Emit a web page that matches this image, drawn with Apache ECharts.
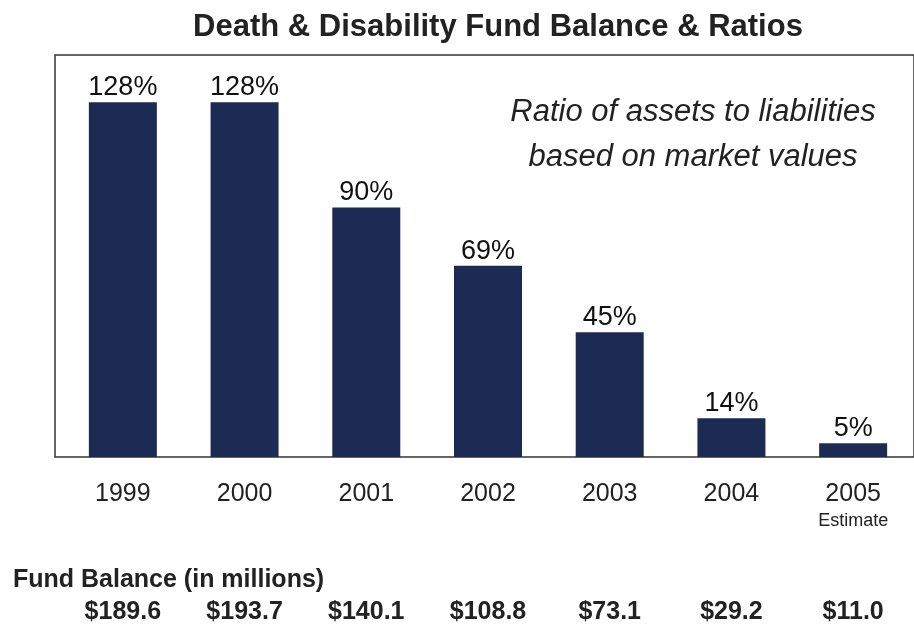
<!DOCTYPE html>
<html><head><meta charset="utf-8">
<script src="https://cdn.jsdelivr.net/npm/echarts@6/dist/echarts.min.js"></script>
<style>html,body{margin:0;padding:0;background:#fff}#c{width:914px;height:637px}</style>
</head><body><div id="c"></div>
<script>
var years = ['1999','2000','2001','2002','2003','2004','2005'];
var ratios = [128, 128, 90, 69, 45, 14, 5];
var fundBalance = ['$189.6','$193.7','$140.1','$108.8','$73.1','$29.2','$11.0'];
var estimateNote = 'Estimate';

var FONT = 'Liberation Sans';
var chart = echarts.init(document.getElementById('c'));
chart.setOption({
  backgroundColor: '#ffffff',
  animation: false,
  title: [{
    text: 'Death & Disability Fund Balance & Ratios',
    left: 493, top: 7, textAlign: 'center',
    textStyle: {fontFamily: FONT, fontWeight: 'bold', fontSize: 31, color: '#222'}
  }, {
    text: 'Ratio of assets to liabilities\nbased on market values',
    left: 688, top: 85, textAlign: 'center',
    textStyle: {fontFamily: FONT, fontStyle: 'italic', fontWeight: 'normal', fontSize: 31, color: '#222', lineHeight: 45}
  }, {
    text: 'Fund Balance (in millions)',
    left: 8, top: 563,
    textStyle: {fontFamily: FONT, fontWeight: 'bold', fontSize: 25, color: '#222'}
  }],
  grid: [
    {left: 62, right: -6, top: 55, bottom: 180},
    {left: 55, right: -6, top: 55, bottom: 180, show: true, borderColor: '#333', borderWidth: 1.5, backgroundColor: 'transparent'}
  ],
  xAxis: [{
    type: 'category', data: years, position: 'bottom', gridIndex: 0,
    axisLine: {show: false}, axisTick: {show: false},
    axisLabel: {
      interval: 0, margin: 25, fontFamily: FONT, fontSize: 25, color: '#222', lineHeight: 25,
      formatter: function (v) { return v === '2005' ? v + '\n{e|' + estimateNote + '}' : v; },
      rich: {e: {fontSize: 18, fontFamily: FONT, color: '#222', lineHeight: 28}}
    }
  }, {
    type: 'category', data: fundBalance, position: 'bottom', offset: 135, gridIndex: 0,
    axisLine: {show: false}, axisTick: {show: false},
    axisLabel: {interval: 0, fontFamily: FONT, fontWeight: 'bold', fontSize: 25, color: '#222'}
  }, {
    type: 'category', data: [], gridIndex: 1, show: false
  }],
  yAxis: [
    {type: 'value', min: 0, max: 145, show: false, splitLine: {show: false}, gridIndex: 0},
    {type: 'value', min: 0, max: 145, show: false, splitLine: {show: false}, gridIndex: 1}
  ],
  series: [{
    type: 'bar', data: ratios, barWidth: 68, xAxisIndex: 0, yAxisIndex: 0,
    itemStyle: {color: '#1c2b53'},
    label: {show: true, position: 'top', distance: 1, formatter: '{c}%', fontFamily: FONT, fontSize: 27, color: '#111'}
  }]
});
</script></body></html>
